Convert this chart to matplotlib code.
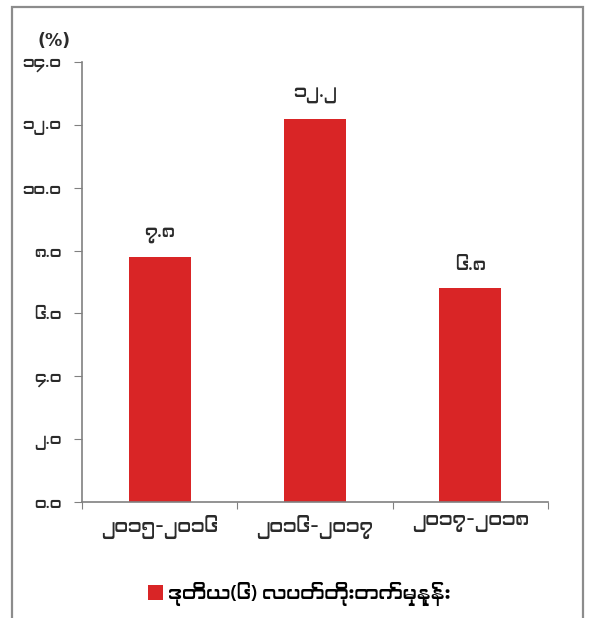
import matplotlib
matplotlib.use('Agg')
import matplotlib.pyplot as plt
from matplotlib.patches import Rectangle
from matplotlib import font_manager

# data
periods = ['၂၀၁၅-၂၀၁၆', '၂၀၁၆-၂၀၁၇', '၂၀၁၇-၂၀၁၈']
growth = [7.8, 12.2, 6.8]
value_labels = ['၇.၈', '၁၂.၂', '၆.၈']
ytick_vals = [0, 2, 4, 6, 8, 10, 12, 14]
ytick_labels = ['၀.၀', '၂.၀', '၄.၀', '၆.၀', '၈.၀', '၁၀.၀', '၁၂.၀', '၁၄.၀']
legend_label = 'ဒုတိယ(၆) လပတ်တိုးတက်မှုနှုန်း'

# pick any installed font that can draw Myanmar glyphs
fams = []
for f in font_manager.fontManager.ttflist:
    n = f.name
    if 'Myanmar' in n or 'Padauk' in n or 'Pyidaungsu' in n or 'Zawgyi' in n:
        if n not in fams:
            fams.append(n)
plt.rcParams['font.family'] = fams + ['DejaVu Sans']

fig = plt.figure(figsize=(5.89, 6.18), dpi=100)
ax = fig.add_axes([82/589, 1-502/618, (548-82)/589, (502-62)/618])

# outer frame
fig.patches.append(Rectangle((12/589, -0.05), (583-12)/589, 1.05-7/618,
                             transform=fig.transFigure, fill=False,
                             edgecolor='#8c8c8c', linewidth=1.6))

red = '#d92526'
txt = '#2b2b2b'
x = range(len(periods))
ax.bar(x, growth, width=0.4, color=red, label=legend_label)
for xi, v, lab in zip(x, growth, value_labels):
    ax.text(xi, v + 0.45, lab, ha='center', va='bottom', fontsize=13, color=txt)

ax.set_xlim(-0.5, 2.5)
ax.set_ylim(0, 14)
ax.set_yticks(ytick_vals)
ax.set_yticklabels(ytick_labels, fontsize=11.5, color=txt)
ax.set_xticks([-0.5, 0.5, 1.5, 2.5])
ax.set_xticklabels([])
ax.set_xticks(list(x), minor=True)
ax.set_xticklabels(periods, minor=True, fontsize=13.5, color=txt)
ax.tick_params(axis='x', which='minor', length=0, pad=9)
ax.tick_params(axis='x', which='major', length=5, color='#808080', direction='out')
ax.tick_params(axis='y', length=6, color='#808080', direction='out', pad=9)

for s in ['top', 'right']:
    ax.spines[s].set_visible(False)
for s in ['left', 'bottom']:
    ax.spines[s].set_color('#808080')
    ax.spines[s].set_linewidth(1.2)

fig.text(54/589, 1-41/618, '(%)', fontsize=12.5, fontweight='bold', color=txt,
         family='DejaVu Sans', ha='center', va='center')

ax.legend(loc='center', bbox_to_anchor=(0.5 - 16/466, 1-(594-62)/440), frameon=False,
          handlelength=0.8, handleheight=0.8, handletextpad=0.25, fontsize=14)

fig.savefig('out.png', dpi=100)
